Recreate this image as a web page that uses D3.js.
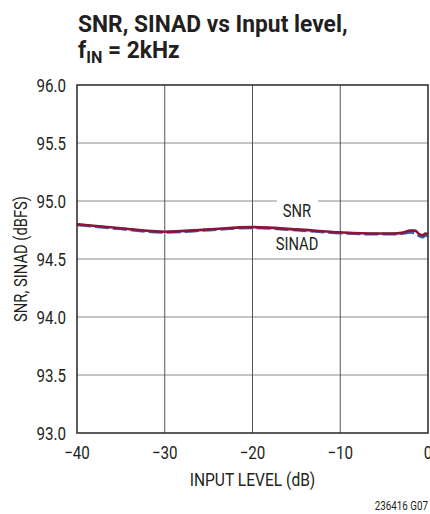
<!DOCTYPE html>
<html>
<head>
<meta charset="utf-8">
<script src="https://cdn.jsdelivr.net/npm/d3@7"></script>
<style>
  body { margin: 0; background: #fff; }
  text { font-family: "Liberation Sans Narrow", "Arial Narrow", "Roboto", sans-serif; fill: #231f20; }
</style>
</head>
<body>
<svg width="430" height="514"></svg>
<script>
const svg = d3.select('svg');

// input level (dB)
const inputLevel = [-40, -35, -30, -25, -20, -15, -10, -6, -4, -3, -2, -1.5, -1, -0.6, -0.3, 0];
const snr   = [94.80, 94.765, 94.735, 94.755, 94.775, 94.755, 94.73, 94.72, 94.72, 94.725, 94.745, 94.745, 94.715, 94.705, 94.72, 94.715];
const sinad = [94.795, 94.76, 94.73, 94.75, 94.77, 94.75, 94.725, 94.715, 94.715, 94.72, 94.73, 94.725, 94.70, 94.69, 94.705, 94.70];
const xTicks = [-40, -30, -20, -10, 0];
const yTicks = [93.0, 93.5, 94.0, 94.5, 95.0, 95.5, 96.0];

var margin = {top: 85, right: 2, bottom: 81, left: 77};
const width = +svg.attr('width');
const height = +svg.attr('height');

var xScale = d3.scaleLinear()
    .domain([-40, 0])
    .range([margin.left, width - margin.right]);

var yScale = d3.scaleLinear()
    .domain([93, 96])
    .range([height - margin.bottom, margin.top]);

// condensed text: squeeze horizontally since no narrow font is installed
var label = function (x, y, txt, size, anchor, rot) {
    var g = svg.append('g')
        .attr('transform', `translate(${x},${y})` + (rot ? ` rotate(${rot})` : '') + ' scale(0.82,1)');
    return g.append('text')
        .attr('text-anchor', anchor || 'start')
        .style('font-size', size + 'px')
        .text(txt);
};

//-----------------------------------------GRID-----------------------------------------//

svg.append('g')
    .selectAll('line')
    .data(yTicks.slice(1, -1))
    .enter()
    .append('line')
    .attr('x1', xScale(-40))
    .attr('x2', xScale(0))
    .attr('y1', d => yScale(d))
    .attr('y2', d => yScale(d))
    .style('stroke', '#8a8a8a')
    .style('stroke-width', 1);

svg.append('g')
    .selectAll('line')
    .data(xTicks.slice(1, -1))
    .enter()
    .append('line')
    .attr('x1', d => xScale(d))
    .attr('x2', d => xScale(d))
    .attr('y1', yScale(93))
    .attr('y2', yScale(96))
    .style('stroke', '#555')
    .style('stroke-width', 1);

//-----------------------------------------CURVES-----------------------------------------//

var line = d3.line()
    .x(d => xScale(d[0]))
    .y(d => yScale(d[1]))
    .curve(d3.curveMonotoneX);

svg.append('path')
    .datum(inputLevel.map((x, i) => [x, sinad[i]]))
    .attr('d', line)
    .style('fill', 'none')
    .style('stroke', '#3a5fb0')
    .style('stroke-width', 3)
    .style('stroke-dasharray', '14,4');

svg.append('path')
    .datum(inputLevel.map((x, i) => [x, snr[i]]))
    .attr('d', line)
    .style('fill', 'none')
    .style('stroke', '#8b1538')
    .style('stroke-width', 2.6);

//-----------------------------------------LABELS-----------------------------------------//

svg.append('rect')
    .attr('x', 277)
    .attr('y', yScale(95) - 2)
    .attr('width', 41)
    .attr('height', 4)
    .style('fill', '#fff');

label(297, 217, 'SNR', 18, 'middle');
label(297, 250, 'SINAD', 18, 'middle');

//-----------------------------------------FRAME-----------------------------------------//

svg.append('rect')
    .attr('x', xScale(-40))
    .attr('y', yScale(96))
    .attr('width', xScale(0) - xScale(-40))
    .attr('height', yScale(93) - yScale(96))
    .style('fill', 'none')
    .style('stroke', '#333')
    .style('stroke-width', 1.6);

//-----------------------------------------AXES-----------------------------------------//

yTicks.forEach(d => label(66, yScale(d) + 6.5, d.toFixed(1), 18.5, 'end'));

xTicks.forEach(d => label(xScale(d), 459, d === 0 ? '0' : '\u2212' + Math.abs(d), 18.5, 'middle'));

label((xScale(-40) + xScale(0)) / 2, 486, 'INPUT LEVEL (dB)', 19, 'middle');

label(27, yScale(94.5), 'SNR, SINAD (dBFS)', 18, 'middle', -90);

label(428, 510, '236416 G07', 12, 'end');

//-----------------------------------------TITLE-----------------------------------------//

var g1 = svg.append('g').attr('transform', 'translate(78,32) scale(0.95,1)');
g1.append('text')
    .style('font-size', '24px')
    .style('font-weight', 'bold')
    .text('SNR, SINAD vs Input level,');

var g2 = svg.append('g').attr('transform', 'translate(78,58) scale(0.95,1)');
var t2 = g2.append('text')
    .style('font-size', '24px')
    .style('font-weight', 'bold');
t2.append('tspan').text('f');
t2.append('tspan').attr('dy', 5).style('font-size', '17px').text('IN');
t2.append('tspan').attr('dy', -5).text(' = 2kHz');
</script>
</body>
</html>
